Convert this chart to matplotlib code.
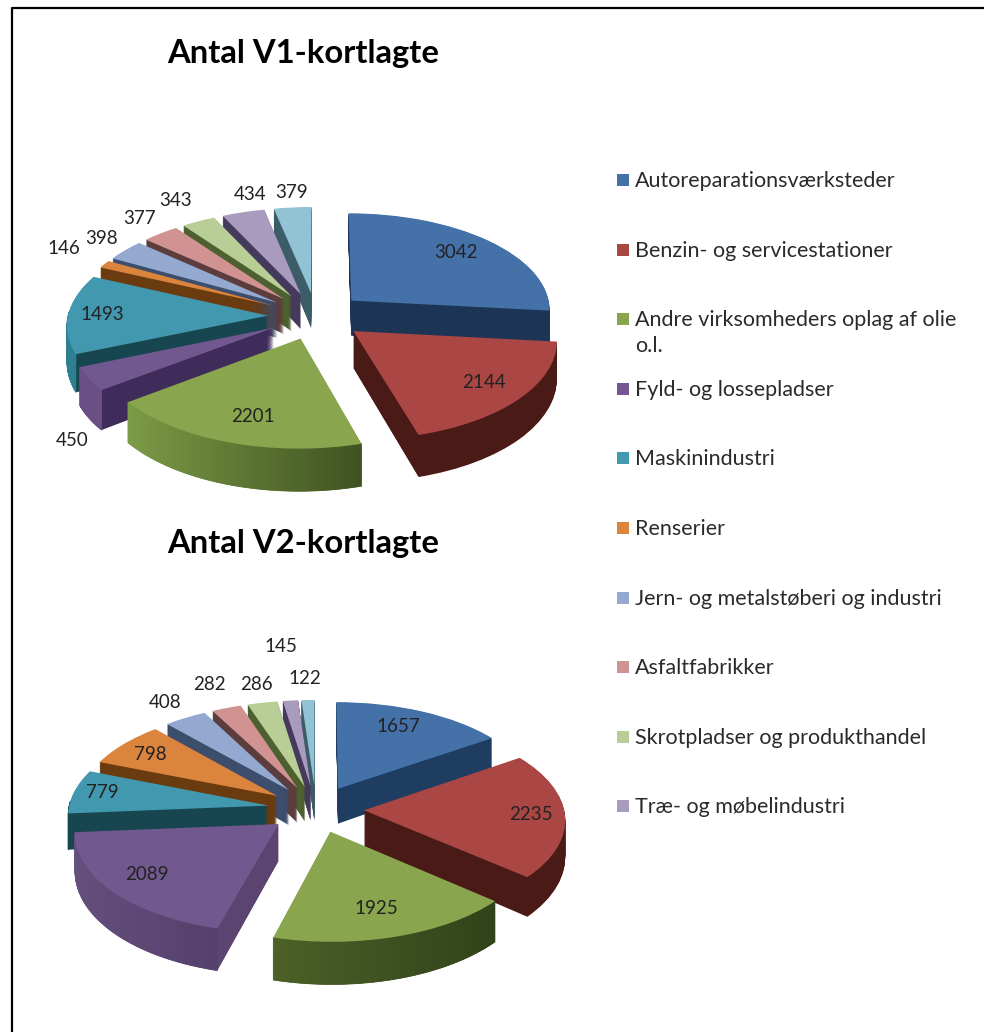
import numpy as np
import matplotlib
matplotlib.use('Agg')
import matplotlib.pyplot as plt
from matplotlib.collections import PolyCollection
from matplotlib.colors import to_rgb
from matplotlib.transforms import Transform

# data
v1_values = [3042, 2144, 2201, 450, 1493, 146, 398, 377, 343, 434, 379]
v2_values = [1657, 2235, 1925, 2089, 779, 798, 408, 282, 286, 145, 122]
categories = ['Autoreparationsværksteder', 'Benzin- og servicestationer',
              'Andre virksomheders oplag af olie\no.l.', 'Fyld- og lossepladser',
              'Maskinindustri', 'Renserier', 'Jern- og metalstøberi og industri',
              'Asfaltfabrikker', 'Skrotpladser og produkthandel', 'Træ- og møbelindustri']

top_colors = ['#4472a8', '#aa4643', '#89a54e', '#71588f', '#4198af', '#db843d',
              '#93a9cf', '#d19392', '#b9cd96', '#a99bbd', '#91c3d5']
v1_sides = ['#1d3555', '#4a1a17', '#56692c', '#3f2c5a', '#174650', '#6b3b10',
            '#3d4d6c', '#5c3d3d', '#4d6030', '#453a5c', '#3c5c68']
v2_sides = ['#1f3d60', '#4a1a17', '#3a4a1f', '#5c4470', '#174650', '#6b3b10',
            '#3d4d6c', '#5c3d3d', '#4d6030', '#453a5c', '#3c5c68']

# outer rim shades, left to right, where they differ from the cut faces
v1_rims = {2: ('#7d9c48', '#3f5220'), 3: ('#6a4f85', '#6a4f85'), 4: ('#2e7f92', '#2e7f92')}
v2_rims = {2: ('#4c6028', '#31421a'), 3: ('#66507e', '#55406c'), 4: ('#174650', '#174650')}

# label places, in pixels of the picture
v1_label_xy = [(456, 252), (484, 383), (253, 416), (72, 440), (102, 314), (64, 248),
               (102, 238), (140, 218), (176, 201), (250, 194), (292, 193)]
v2_label_xy = [(398, 726), (531, 814), (376, 909), (147, 875), (102, 792), (150, 754),
               (165, 702), (209, 684), (256, 684), (281, 646), (305, 678)]

W, H = 984, 1032
RX, RY, DEPTH = 200, 97, 36
EXPLODE = 0.24
PERSP = 0.083


class Tilt(Transform):
    # the back of the pie shrinks, the front grows; depth hangs below the top face
    input_dims = output_dims = 2

    def __init__(self, drop):
        super().__init__()
        self.drop = drop

    def transform_non_affine(self, xy):
        xy = np.asarray(xy, dtype=float)
        s = 1.0 / (1.0 + PERSP * xy[:, 1])
        d = self.drop * (1.0 - 0.15 * xy[:, 1])
        return np.column_stack([xy[:, 0] * s, xy[:, 1] * s - d])


def draw_pie(cx, cy, values, sides, rims):
    # axes sized so one pie unit is RX by RY pixels
    x0, x1, y0, y1 = -1.5, 1.3, -2.0, 1.4
    left = cx + x0 * RX
    bottom = H - (cy - y0 * RY)
    ax = fig.add_axes([left / W, bottom / H, (x1 - x0) * RX / W, (y1 - y0) * RY / H])
    ax.patch.set_visible(False)
    fracs = np.array(values) / sum(values)
    mids = 90 - 360 * (np.cumsum(fracs) - fracs / 2)
    order = -np.sin(np.radians(mids)) * 4 + 10
    explode = [EXPLODE] * len(values)
    for d in np.linspace(DEPTH, 0, 50):
        wedges, _ = ax.pie(values, explode=explode, startangle=90, counterclock=False,
                           colors=top_colors if d == 0 else sides, normalize=True)
        for i, w in enumerate(wedges):
            w.set_transform(Tilt(d / RY) + ax.transData)
            w.set_zorder(order[i] + (DEPTH - d) * 0.01)
            w.set_linewidth(0)
            w.set_clip_on(False)
    # outer rim strips for the wedges whose rim has its own shading
    for i, (c0, c1) in rims.items():
        w = wedges[i]
        t = np.radians(np.linspace(w.theta1, w.theta2, 80))
        t = t[np.sin(t) < 0.05]
        px = w.center[0] + w.r * np.cos(t)
        py = w.center[1] + w.r * np.sin(t)
        top = Tilt(0).transform_non_affine(np.column_stack([px, py]))
        low = Tilt(DEPTH / RY).transform_non_affine(np.column_stack([px, py]))
        polys = [[top[k], top[k + 1], low[k + 1], low[k]] for k in range(len(t) - 1)]
        f = (px[:-1] - px.min()) / max(px.max() - px.min(), 1e-6)
        a, b = np.array(to_rgb(c0)), np.array(to_rgb(c1))
        cols = [a + (b - a) * v for v in f]
        ax.add_collection(PolyCollection(polys, facecolors=cols, edgecolors=cols, linewidths=0.5,
                                         zorder=order[i] + DEPTH * 0.01 - 0.005, clip_on=False))
    ax.set_aspect('auto')
    ax.set_xlim(x0, x1)
    ax.set_ylim(y0, y1)
    ax.axis('off')


plt.rcParams['font.family'] = ['Lato', 'DejaVu Sans']
fig = plt.figure(figsize=(W / 100, H / 100), dpi=100)
fig.patch.set_facecolor('white')

draw_pie(316, 316, v1_values, v1_sides, v1_rims)
draw_pie(316, 809, v2_values, v2_sides, v2_rims)

# page overlay in picture pixels: frame, titles, legend, labels
page = fig.add_axes([0, 0, 1, 1], zorder=50)
page.set_xlim(0, W)
page.set_ylim(H, 0)
page.axis('off')
page.patch.set_visible(False)

page.plot([12, 12, W], [H, 8, 8], color='black', lw=1.6)

page.text(303, 54, 'Antal V1-kortlagte', fontsize=23.6, fontweight='bold', ha='center', va='center')
page.text(303, 544, 'Antal V2-kortlagte', fontsize=23.6, fontweight='bold', ha='center', va='center')

for i, name in enumerate(categories):
    y = 180 + i * 69.6
    page.scatter([623], [y], marker='s', s=72, color=top_colors[i], linewidths=0)
    page.text(635, y - 9, name, fontsize=15.45, color='#2a2a2a', ha='left', va='top', linespacing=1.34)

for xy_list, vals in ((v1_label_xy, v1_values), (v2_label_xy, v2_values)):
    for (x, y), v in zip(xy_list, vals):
        page.text(x, y, str(v), fontsize=13.5, color='#222222', ha='center', va='center')

fig.savefig('out.png', dpi=100)
